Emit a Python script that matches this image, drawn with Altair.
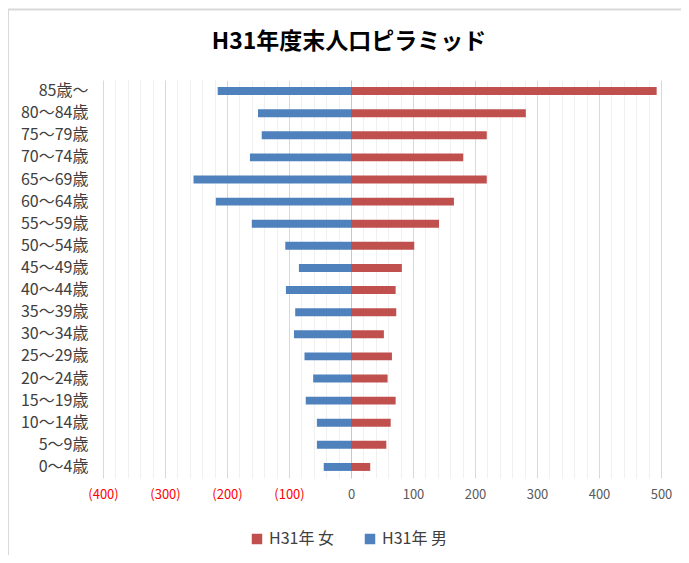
import altair as alt
import pandas as pd

ages = ["85歳〜", "80〜84歳", "75〜79歳", "70〜74歳", "65〜69歳", "60〜64歳",
        "55〜59歳", "50〜54歳", "45〜49歳", "40〜44歳", "35〜39歳", "30〜34歳",
        "25〜29歳", "20〜24歳", "15〜19歳", "10〜14歳", "5〜9歳", "0〜4歳"]
female = [493, 282, 219, 181, 219, 166, 142, 102, 82, 72, 73, 53, 66, 59, 72, 64, 57, 31]
male = [215, 150, 144, 163, 254, 218, 160, 106, 84, 105, 90, 92, 75, 61, 73, 55, 55, 44]
series = ["H31年 女", "H31年 男"]
colors = ["#C0504D", "#4F81BD"]
tick_values = list(range(-400, 501, 20))

rows = []
for a, f, m in zip(ages, female, male):
    rows.append({"age": a, "sex": series[0], "value": f})
    rows.append({"age": a, "sex": series[1], "value": -m})
df = pd.DataFrame(rows)

FONT = "Noto Sans CJK JP"

bars = alt.Chart(df).mark_bar().encode(
    x=alt.X("value:Q",
            scale=alt.Scale(domain=[-400, 500], nice=False),
            axis=alt.Axis(
                title=None, values=tick_values, ticks=False, domain=False,
                labelExpr="abs(datum.value) % 100 != 0 ? '' : (datum.value < 0 ? '(' + abs(datum.value) + ')' : '' + datum.value)",
                labelColor={"condition": {"test": "datum.value < 0", "value": "#FF0000"}, "value": "#595959"},
                gridColor={"condition": [
                    {"test": "datum.value == 0", "value": "#C8C8C8"},
                    {"test": "abs(datum.value) % 100 == 0", "value": "#D9D9D9"}],
                    "value": "#F0F0F0"},
                labelFontSize=13, labelFont=FONT, labelPadding=10,
                labelOverlap=False, labelFlush=False, labelBound=False, grid=True)),
    y=alt.Y("age:N", sort=ages,
            scale=alt.Scale(paddingInner=0.64, paddingOuter=0.32),
            axis=alt.Axis(title=None, ticks=False, domain=False, labelFontSize=16,
                          labelFont=FONT, labelColor="#404040", labelPadding=15)),
    color=alt.Color("sex:N", scale=alt.Scale(domain=series, range=colors),
                    legend=alt.Legend(title=None, orient="none", direction="horizontal",
                                      legendX=146, legendY=451, symbolType="square",
                                      symbolSize=110, labelFontSize=16, labelFont=FONT,
                                      labelColor="#404040", columnPadding=28,
                                      symbolStrokeWidth=0)),
)

border = alt.Chart(pd.DataFrame({"a": [0]})).mark_rect(
    fill="transparent", stroke="#D9D9D9", strokeWidth=2).encode(
    x=alt.value(-95), x2=alt.value(700), y=alt.value(-70.5), y2=alt.value(600))

chart = alt.layer(border, bars).properties(
    width=558, height=398,
    autosize=alt.AutoSizeParams(type="none"),
    padding={"left": 95, "top": 72, "right": 20, "bottom": 77},
    title=alt.TitleParams("H31年度末人口ピラミッド", font=FONT, fontSize=23,
                          fontWeight="bold", color="#000000", anchor="middle",
                          dx=-33, offset=-68, baseline="bottom"),
).configure_view(stroke=None)

chart.save("out.html", embed_options={"renderer": "svg", "actions": False})
